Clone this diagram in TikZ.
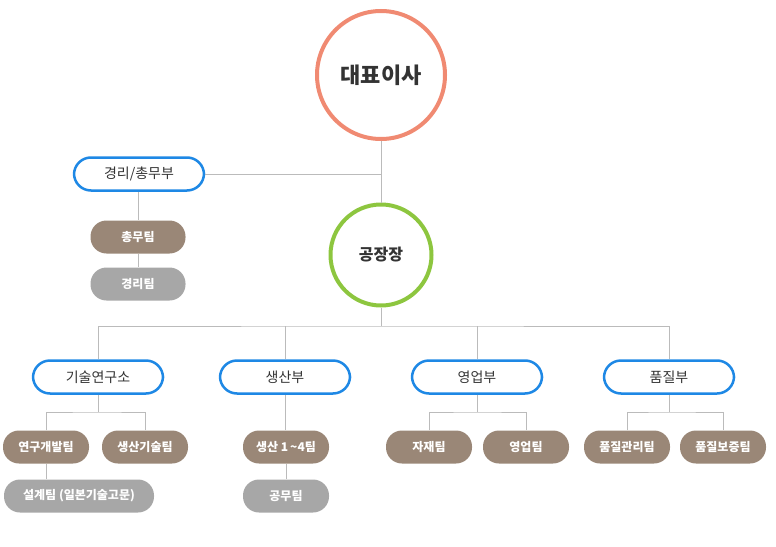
\documentclass[tikz,border=0pt]{standalone}
\usepackage{fontspec}
\newfontfamily\kr{Noto Sans CJK KR}
\definecolor{salmon}{HTML}{F08A72}
\definecolor{grn}{HTML}{8DC63F}
\definecolor{blu}{HTML}{1E88E5}
\definecolor{brn}{HTML}{9A8777}
\definecolor{gry}{HTML}{A7A7A7}
\definecolor{ln}{HTML}{BBBBBB}
\begin{document}
\begin{tikzpicture}[x=1pt,y=-1pt,
  dept/.style={draw=blu,line width=2.5pt,fill=white,rounded corners=17pt,minimum width=130pt,minimum height=33pt,font=\kr\fontsize{14}{16}\selectfont,text=black!80},
  team/.style={fill=brn,rounded corners=16pt,minimum width=86pt,minimum height=33pt,font=\kr\bfseries\fontsize{12}{14}\selectfont,text=white,inner sep=2pt},
  teamg/.style={team,fill=gry},
  conn/.style={draw=ln,line width=0.8pt}]
\useasboundingbox (0,0) rectangle (776,546);
\node[circle,draw=salmon,line width=4pt,minimum size=128pt,font=\kr\bfseries\fontsize{22}{26}\selectfont,text=black!80] (ceo) at (381,75) {대표이사};
\node[circle,draw=grn,line width=4pt,minimum size=101pt,font=\kr\bfseries\fontsize{16}{19}\selectfont,text=black!80] (fm) at (381,255) {공장장};
\node[dept] (gm) at (139,174) {경리/총무부};
\node[team,minimum width=95pt] (t1) at (138,237) {총무팀};
\node[teamg,minimum width=95pt] (t2) at (138,284) {경리팀};
\node[dept] (d1) at (98,377) {기술연구소};
\node[dept] (d2) at (285,377) {생산부};
\node[dept] (d3) at (477,377) {영업부};
\node[dept] (d4) at (669,377) {품질부};
\node[team] (a1) at (46,447) {연구개발팀};
\node[team] (a2) at (145,447) {생산기술팀};
\node[teamg,minimum width=150pt] (a3) at (79,496) {설계팀 (일본기술고문)};
\node[team] (b1) at (286,447) {생산 1\,\textasciitilde4팀};
\node[teamg] (b2) at (286,496) {공무팀};
\node[team] (c1) at (429,447) {자재팀};
\node[team] (c2) at (526,447) {영업팀};
\node[team] (e1) at (627,447) {품질관리팀};
\node[team] (e2) at (723,447) {품질보증팀};
\draw[conn] (ceo.south) -- (fm.north);
\draw[conn] (gm.east) -- (381,174);
\draw[conn] (gm.south -| t1.north) -- (t1.north);
\draw[conn] (t1.south) -- (t2.north);
\coordinate (h) at (381,326);
\draw[conn] (fm.south) -- (h);
\draw[conn] (d1.north) |- (h) -| (d4.north);
\draw[conn] (d2.north) -- (285,326);
\draw[conn] (d3.north) -- (477,326);
\draw[conn] (d1.south) -- (98,412);
\draw[conn] (a1.north) |- (98,412) -| (a2.north);
\draw[conn] (a1.south) -- (a3.north -| a1.south);
\draw[conn] (d2.south) -- (b1.north -| d2.south);
\draw[conn] (b1.south) -- (b2.north);
\draw[conn] (d3.south) -- (477,412);
\draw[conn] (c1.north) |- (477,412) -| (c2.north);
\draw[conn] (d4.south) -- (669,412);
\draw[conn] (e1.north) |- (669,412) -| (e2.north);
\end{tikzpicture}
\end{document}
